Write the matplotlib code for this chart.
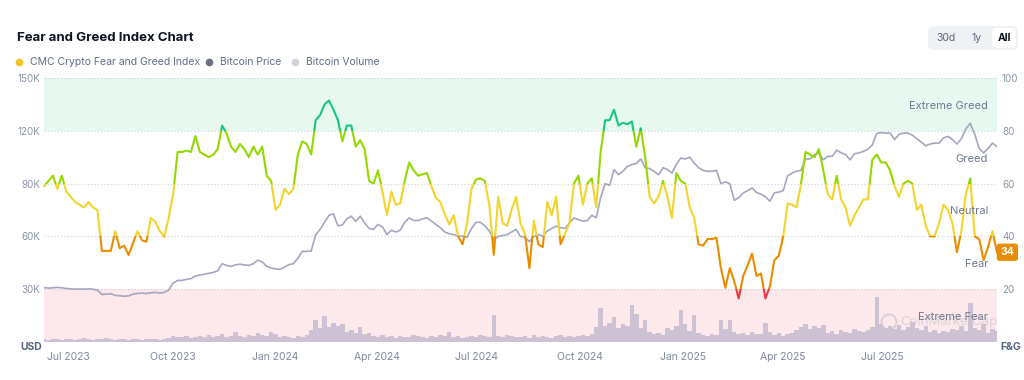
import numpy as np
import pandas as pd
import matplotlib
matplotlib.use('Agg')
import matplotlib.pyplot as plt
import matplotlib.dates as mdates
from matplotlib.patches import Rectangle, FancyBboxPatch, Circle
from matplotlib.lines import Line2D
from matplotlib.transforms import IdentityTransform
from matplotlib.ticker import FuncFormatter

plt.rcParams['font.family'] = ['Inter', 'DejaVu Sans']

# data, one point every 4 days from 2023-06-28
start_date = '2023-06-28'

fg_index = [
    59, 61, 63, 58, 63, 57, 55, 53, 52, 51, 53, 51, 50, 34.5, 34.5, 34.5, 42, 35.5, 36.5, 33,
    37.5, 42, 38.5, 38, 47, 45.5, 42, 40, 47, 56, 72, 72, 72.5, 72, 78, 72, 71, 70, 71, 73,
    82, 79, 74, 72, 75, 73, 70, 74, 71, 74, 63, 61, 50,
    52, 58, 56, 58, 71, 76, 75, 71, 84, 86, 90, 91.5, 88, 84, 76, 82, 82, 74, 76.5, 73,
    61, 60, 65, 57, 48, 57, 52, 52.5, 61, 68, 65, 63, 63.5, 64, 59, 54.6, 53, 48.5, 44.5, 48,
    40, 37, 45, 58, 61.5, 62, 61, 52, 33, 55, 45, 44, 50, 55,
    45, 41, 28, 46, 37, 36, 53, 48, 55, 37, 41, 45, 60, 63, 52, 60, 62, 51, 72, 84,
    84, 88, 82, 83, 82.5, 83.5, 74, 81, 70, 55, 52.5, 55, 61, 55, 47, 64, 61, 60, 51, 47,
    37, 36.5, 39, 39, 39.5, 28, 20.5, 28, 23, 16.5, 25, 29, 33.5, 25,
    26, 16.5, 21, 31, 32.6, 40, 52.5, 52, 51, 60, 72, 71, 70, 73, 65, 56, 54, 63, 54, 51,
    44, 48, 51, 54, 54, 69, 71, 68, 68, 65, 59, 55, 60, 61, 60, 50, 52, 44, 40, 40,
    45, 52, 50, 45, 34, 42, 56, 62, 40, 39, 31, 36, 42, 34,
]

btc_price_k = [
    30.9, 30.6, 30.8, 31.0, 30.8, 30.4, 30.2, 30.0, 30.1, 30.0, 30.2, 30.0, 29.5, 27.0, 27.2,
    27.4, 26.5, 26.3, 26.0, 26.2, 27.2, 27.6, 27.8, 27.5, 28.0, 28.2, 27.8, 28.2, 29.5, 33.5,
    35.0, 35.0, 35.6, 36.0, 37.5, 38.0, 38.5, 39.0, 39.5, 40.5, 44.5, 43.5, 43.0, 43.8, 44.2,
    43.8, 43.5, 44.5, 46.5, 45.5, 43.0, 42.0, 41.5,
    41.3, 42.5, 44.0, 44.5, 47.5, 51.5, 51.5, 51.7, 60.8, 64.0, 68.0, 72.0, 72.8, 66.0, 66.5,
    70.0, 71.5, 68.5, 71.5, 67.7, 64.5, 64.0, 66.8, 65.5, 61.0, 63.5, 62.5, 63.5, 68.0, 70.5,
    69.0, 69.0, 70.0, 70.6, 68.7, 66.8, 65.0, 62.5, 61.5, 61.0, 60.2, 60.2, 59.5, 64.5, 68.0,
    68.0, 66.0, 63.0, 58.0, 60.0, 60.5, 61.0, 62.5, 64.0,
    60.0, 59.5, 57.0, 60.0, 61.0, 60.2, 63.0, 64.5, 65.8, 65.0, 64.5, 67.7, 70.5, 69.5, 68.7,
    69.0, 72.0, 70.6, 82.0, 90.0, 89.0, 97.9, 95.1, 97.0, 99.8, 100.8, 101.5, 104.0, 99.0, 98.5,
    97.0, 95.0, 99.0, 98.0, 96.0, 101.0, 104.5, 104.0, 105.0, 101.7, 99.0, 97.5, 97.0, 97.0,
    97.5, 90.0, 91.0, 90.0, 80.5, 82.0, 84.7, 86.0, 87.5, 85.0,
    84.0, 82.5, 80.0, 84.7, 85.2, 86.0, 94.5, 96.0, 97.0, 97.5, 104.0, 104.0, 106.4, 107.5,
    103.5, 105.5, 105.5, 109.0, 107.5, 106.5, 103.5, 107.0, 107.4, 108.3, 109.5, 112.0, 118.5,
    119.0, 118.7, 118.7, 115.0, 118.0, 118.7, 118.7, 117.5, 115.5, 113.5, 111.5, 112.5, 113.0,
    113.0, 116.0, 116.8, 115.0, 112.5, 115.5, 121.0, 124.3, 118.0, 110.0, 107.4, 110.0, 113.0,
    111.0,
]

btc_volume_b = [
    12, 8, 12, 12, 8, 12, 12, 8, 12, 16, 12, 8, 12, 12, 16, 12, 8, 12, 12, 8, 12, 12, 8, 12,
    12, 12, 8, 12, 16,
    24, 20, 20, 24, 16, 20, 24, 20, 28, 20, 24, 32, 20, 24, 40, 24, 20, 28, 24, 36, 28, 24, 40, 32,
    20, 24, 20, 16, 24, 20, 28, 48, 88, 56, 104, 60, 76, 64, 72, 40, 48, 36, 60, 32, 36,
    24, 20, 28, 20, 24, 16, 24, 20, 20, 28, 24, 20, 16, 24, 20, 28, 24, 40, 20, 24, 16, 20,
    24, 20, 28, 24, 20, 108, 24, 20, 28, 24, 20,
    20, 24, 16, 28, 20, 24, 20, 16, 24, 28, 20, 24, 20, 24, 28, 24,
    32, 60, 136, 64, 76, 100, 56, 72, 64, 148, 112, 56, 88, 40, 32, 36, 28, 56, 48, 64,
    128, 72, 44, 108, 36, 28, 24, 32, 28, 88, 52, 88, 40, 32, 36, 28, 40, 32,
    32, 76, 40, 28, 36, 24, 32, 36, 48, 60, 72, 52, 64, 56, 68, 36, 44, 32, 48, 40,
    36, 52, 44, 40, 48, 60, 180, 72, 56, 64, 52, 68, 48, 60, 80, 56, 48, 64, 40, 48,
    36, 44, 40, 52, 48, 64, 44, 156, 56, 48, 72, 36, 52, 44,
]

dates = pd.date_range(start_date, periods=len(fg_index), freq='4D')

price_ticks = [30000, 60000, 90000, 120000, 150000]
fg_ticks = [20, 40, 60, 80, 100]
month_ticks = ['2023-07-01', '2023-10-01', '2024-01-01', '2024-04-01', '2024-07-01',
               '2024-10-01', '2025-01-01', '2025-04-01', '2025-07-01']

# (low, high, line colour, label)
zones = [
    (0, 20, '#ea3943', 'Extreme Fear'),
    (20, 40, '#ea8c00', 'Fear'),
    (40, 60, '#f3d42f', 'Neutral'),
    (60, 80, '#93d900', 'Greed'),
    (80, 100, '#16c784', 'Extreme Greed'),
]

W, H = 1024, 380
fig = plt.figure(figsize=(W / 100, H / 100), dpi=100, facecolor='white')


def fx(x):
    return x / W


def fy(y):
    return 1 - y / H


L, R, B, T = 44, 997, 342, 78
ax = fig.add_axes([fx(L), fy(B), (R - L) / W, (B - T) / H])
ax.set_facecolor('none')
ax.set_ylim(0, 100)
ax.set_xlim(dates[0], dates[-1])
for s in ax.spines.values():
    s.set_visible(False)

# zone bands and grid
ax.axhspan(80, 100, color='#e7f8f0', lw=0, zorder=0)
ax.axhspan(0, 20, color='#fde8eb', lw=0, zorder=0)
for v in [0, 20, 40, 60, 80, 100]:
    ax.axhline(v, color='#cdd1d9', lw=0.8, ls=(0, (1, 2)), zorder=1)

ax.set_xticks(pd.to_datetime(month_ticks))
ax.set_xticklabels([pd.Timestamp(m).strftime('%b %Y') for m in month_ticks])
plt.setp(ax.get_xticklabels(), ha='left')
ax.tick_params(axis='x', length=0, pad=7, labelsize=7.5, labelcolor='#808a9d')

# volume
axv = ax.twinx()
axv.bar(dates, btc_volume_b, width=4, color='#cdc2d3', lw=0, zorder=2)
axv.set_ylim(0, 1056)
axv.axis('off')
axv.add_patch(Circle((889, H - 322), 7.5, transform=IdentityTransform(), fill=False,
                     ec='#b8b9c4', lw=1.3, alpha=0.55))
axv.text(900, H - 322, 'CoinMarketCap', transform=IdentityTransform(), fontsize=9.5,
         color='#c3c4ce', alpha=0.6, va='center', ha='left')

# bitcoin price
axp = ax.twinx()
axp.plot(dates, np.array(btc_price_k) * 1000, color='#a4a7bf', lw=1.2)
axp.set_ylim(0, 150000)
axp.yaxis.tick_left()
axp.set_yticks(price_ticks)
axp.yaxis.set_major_formatter(FuncFormatter(lambda v, p: f'{v / 1000:.0f}K'))
axp.tick_params(axis='y', length=0, pad=3, labelsize=7, labelcolor='#8a93a6',
                labelright=False, labelleft=True)
for s in axp.spines.values():
    s.set_visible(False)

# fear & greed line, coloured by zone
axf = ax.twinx()
axf.set_ylim(0, 100)
axf.axis('off')
x0 = mdates.date2num(dates[0] - pd.Timedelta(days=30))
x1 = mdates.date2num(dates[-1] + pd.Timedelta(days=30))
for lo, hi, col, name in zones:
    clip = Rectangle((x0, lo), x1 - x0, hi - lo, transform=axf.transData)
    ln, = axf.plot(dates, fg_index, color=col, lw=1.5, solid_joinstyle='round')
    ln.set_clip_path(clip)

label_y = {'Extreme Fear': 9.5, 'Fear': 29.5, 'Neutral': 49.5, 'Greed': 69.5,
           'Extreme Greed': 89.5}
for lo, hi, col, name in zones:
    axf.text((988 - L) / (R - L), label_y[name], name, transform=axf.get_yaxis_transform(),
             ha='right', va='center', fontsize=8, color='#6f7a8e', zorder=5)

# F&G tick labels on the right (twinx moved them to the left)
ax.yaxis.tick_right()
ax.set_yticks(fg_ticks)
ax.tick_params(axis='y', length=0, pad=3.6, labelsize=7, labelcolor='#8a93a6',
               labelleft=False, labelright=True)

# current value badge
axf.annotate(f'{fg_index[-1]:.0f}', xy=(1, fg_index[-1]), xycoords=('axes fraction', 'data'),
             xytext=(7.5, 0), textcoords='offset points', ha='center', va='center',
             fontsize=7.5, fontweight='bold', color='white', annotation_clip=False,
             bbox=dict(boxstyle='round,pad=0.35,rounding_size=0.25', fc='#ea8c00', ec='none'))

# axis unit labels
fig.text(fx(31), fy(347), 'USD', ha='center', va='center', fontsize=7.5,
         fontweight='bold', color='#58667e')
fig.text(fx(1011), fy(347), 'F&G', ha='center', va='center', fontsize=7.5,
         fontweight='bold', color='#58667e')

# title and legend
fig.text(fx(17), fy(38), 'Fear and Greed Index Chart', ha='left', va='center',
         fontsize=9.5, fontweight='bold', color='#0d1421')
legend_items = [(19, '#f0c528', 'CMC Crypto Fear and Greed Index'),
                (209, '#6b6f80', 'Bitcoin Price'),
                (295, '#d2d3db', 'Bitcoin Volume')]
for x, col, name in legend_items:
    fig.add_artist(Line2D([fx(x)], [fy(62)], marker='o', markersize=4.5, color=col,
                          lw=0, transform=fig.transFigure))
    fig.text(fx(x + 11), fy(62), name, ha='left', va='center', fontsize=7.5, color='#616e85')

# range buttons
fig.add_artist(FancyBboxPatch((928, H - 50), 90, 24, boxstyle='round,pad=0,rounding_size=6',
                              transform=IdentityTransform(), fc='#eff2f5', ec='none'))
fig.add_artist(FancyBboxPatch((992, H - 48), 24, 20, boxstyle='round,pad=0,rounding_size=5',
                              transform=IdentityTransform(), fc='white', ec='none'))
fig.text(fx(946), fy(38), '30d', ha='center', va='center', fontsize=7.5, color='#58667e')
fig.text(fx(977), fy(38), '1y', ha='center', va='center', fontsize=7.5, color='#58667e')
fig.text(fx(1004), fy(38), 'All', ha='center', va='center', fontsize=7.5,
         fontweight='bold', color='#0d1421')

fig.savefig('out.png', dpi=100, facecolor='white')
